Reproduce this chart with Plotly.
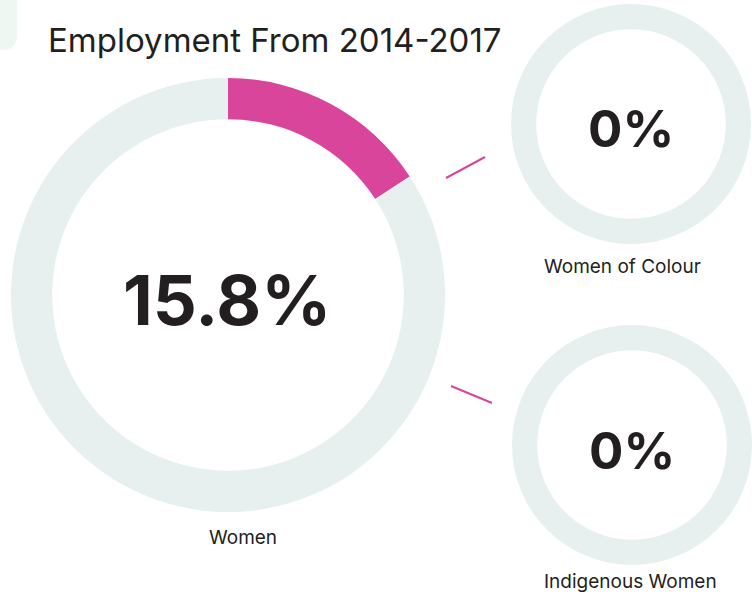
import plotly.graph_objects as go

# ---- data ----
groups = ["Women", "Women of Colour", "Indigenous Women"]
percent_values = [15.8, 0, 0]
center_labels = ["15.8%", "0%", "0%"]
title_text = "Employment From 2014-2017"

W, H = 752, 592
PINK = "#d8459b"
RING = "#e7f0ef"
INK = "#231f20"
FONT = "Inter, Lato, sans-serif"

# pixel layout (center x, center y, radius, hole)
layout_px = [
    (228, 295, 217, 0.81),
    (631, 124, 120, 0.79),
    (632, 445, 120, 0.79),
]

def dom(cx, cy, r):
    return dict(x=[(cx - r) / W, (cx + r) / W], y=[1 - (cy + r) / H, 1 - (cy - r) / H])

fig = go.Figure()
for name, pct, (cx, cy, r, hole) in zip(groups, percent_values, layout_px):
    fig.add_trace(go.Pie(
        labels=[name, "Other"],
        values=[pct, 100 - pct],
        hole=hole,
        sort=False,
        direction="clockwise",
        rotation=0,
        marker=dict(colors=[PINK, RING], line=dict(width=0)),
        textinfo="none",
        hoverinfo="label+value",
        domain=dom(cx, cy, r),
        showlegend=False,
    ))

annotations = []
# center values
sizes = [69, 51, 51]
offsets = [(227, 300), (631, 128), (632, 450)]
for txt, fs, (x, y) in zip(center_labels, sizes, offsets):
    annotations.append(dict(x=x / W, y=1 - y / H, xref="paper", yref="paper",
                            text=f"<b>{txt}</b>", showarrow=False,
                            font=dict(size=fs, color=INK, family=FONT),
                            xanchor="center", yanchor="middle"))
# group labels
label_pos = [(243, 537), (622, 266), (630, 581)]
for name, (x, y) in zip(groups, label_pos):
    annotations.append(dict(x=x / W, y=1 - y / H, xref="paper", yref="paper",
                            text=name, showarrow=False,
                            font=dict(size=19, color=INK, family=FONT),
                            xanchor="center", yanchor="middle"))
# title
annotations.append(dict(x=46 / W, y=1 - 40 / H, xref="paper", yref="paper",
                        text=title_text, showarrow=False,
                        font=dict(size=33, color=INK, family=FONT),
                        xanchor="left", yanchor="middle"))

shapes = [
    # decorative corner tab
    dict(type="path", xref="paper", yref="paper", layer="below",
         path=f"M 0 1 L {17/W} 1 L {17/W} {1-35/H} Q {17/W} {1-50/H} {2/W} {1-50/H} L 0 {1-50/H} Z",
         fillcolor="#eef7f2", line=dict(width=0)),
    # connector lines
    dict(type="line", xref="paper", yref="paper", x0=446 / W, y0=1 - 178 / H,
         x1=485 / W, y1=1 - 157 / H, line=dict(color=PINK, width=2)),
    dict(type="line", xref="paper", yref="paper", x0=451 / W, y0=1 - 386 / H,
         x1=492 / W, y1=1 - 403 / H, line=dict(color=PINK, width=2)),
]

fig.update_layout(
    width=W, height=H,
    margin=dict(l=0, r=0, t=0, b=0),
    paper_bgcolor="white", plot_bgcolor="white",
    annotations=annotations, shapes=shapes,
    showlegend=False,
)
fig.write_html("out.html",
               config={"displayModeBar": False},
               post_script="document.body.style.margin='0';document.body.style.overflow='hidden';")
